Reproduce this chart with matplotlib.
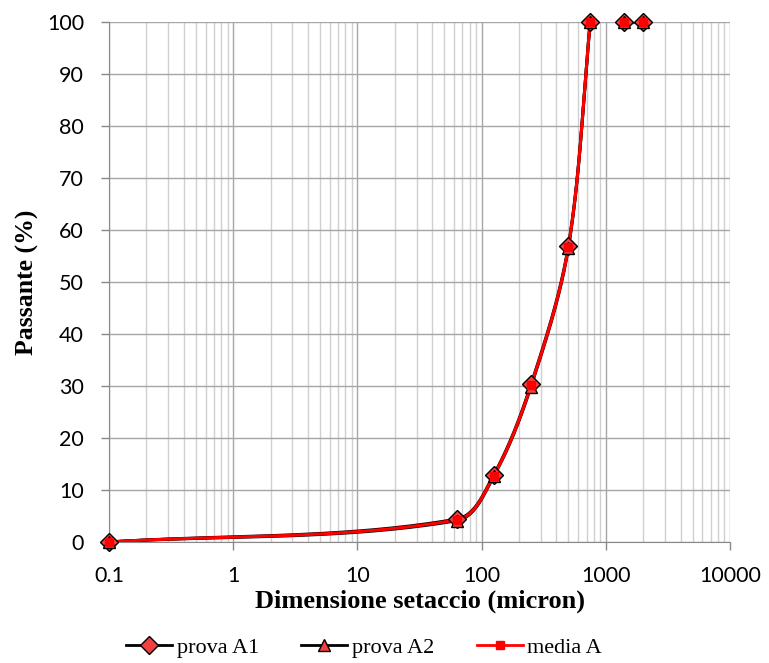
import numpy as np
import matplotlib
matplotlib.use("Agg")
import matplotlib.pyplot as plt
from matplotlib.lines import Line2D

# ---- data ----
sizes = [0.1, 63, 125, 250, 500, 750, 1000, 1400, 2000]
prova_A1 = [0.0, 4.4, 12.9, 30.3, 57.0, 100.0, np.nan, 100.0, 100.0]
prova_A2 = [0.0, 4.1, 12.6, 29.9, 56.6, 100.0, np.nan, 100.0, 100.0]
media_A = [(a + b) / 2 for a, b in zip(prova_A1, prova_A2)]
y_ticks = [0, 10, 20, 30, 40, 50, 60, 70, 80, 90, 100]
x_ticks = [0.1, 1, 10, 100, 1000, 10000]
x_ticklabels = ["0.1", "1", "10", "100", "1000", "10000"]

W, H = 769, 663
fig = plt.figure(figsize=(W / 100, H / 100), dpi=100)
ax = fig.add_axes([109 / W, 1 - 542 / H, (730 - 109) / W, (542 - 22) / H])
ax.set_xscale("log")
ax.set_xlim(0.1, 10000)
ax.set_ylim(0, 100)

XS, YS = 124.3, 5.2  # pixel scale per decade / per unit (for smoothing)


def _unit(v):
    n = np.hypot(*v)
    return v / n if n > 0 else v


def smooth(xs, ys, n=60):
    """Smoothed line (Bezier with length-limited tangents) in log-x space."""
    px = np.log10(np.asarray(xs, float)) * XS
    py = np.asarray(ys, float) * YS
    P = np.column_stack([px, py])
    out = []
    m = len(P)
    for i in range(m - 1):
        p0 = P[i - 1] if i > 0 else P[i]
        p1, p2 = P[i], P[i + 1]
        p3 = P[i + 2] if i + 2 < m else P[i + 1]
        L = np.hypot(*(p2 - p1))
        c1 = p1 + _unit(p2 - p0) * L / 3
        c2 = p2 - _unit(p3 - p1) * L / 3
        t = np.linspace(0, 1, n)[:, None]
        seg = ((1 - t) ** 3) * p1 + 3 * ((1 - t) ** 2) * t * c1 + 3 * (1 - t) * t ** 2 * c2 + t ** 3 * p2
        out.append(seg if i == 0 else seg[1:])
    S = np.vstack(out)
    return 10 ** (S[:, 0] / XS), S[:, 1] / YS


def segments(xs, ys):
    segs, cx, cy = [], [], []
    for x, y in zip(xs, ys):
        if np.isnan(y):
            if cx:
                segs.append((cx, cy))
            cx, cy = [], []
        else:
            cx.append(x)
            cy.append(y)
    if cx:
        segs.append((cx, cy))
    return segs


series = [
    (prova_A1, "black", "D", 9, "#f04040", "black"),
    (prova_A2, "black", "^", 9, "#f04040", "black"),
    (media_A, "#ff0000", "s", 6, "#ff0000", "#ff0000"),
]
for ys, lc, mk, ms, mfc, mec in series:
    for sx, sy in segments(sizes, ys):
        lx, ly = smooth(sx, sy)
        ax.plot(lx, ly, color=lc, lw=2.2, zorder=3, solid_capstyle="round")
for ys, lc, mk, ms, mfc, mec in series:
    ax.plot(sizes, ys, ls="none", marker=mk, ms=ms, mfc=mfc, mec=mec, mew=1.0, zorder=4, clip_on=False)

# grid
ax.set_yticks(y_ticks)
ax.set_xticks(x_ticks)
ax.set_xticklabels(x_ticklabels)
ax.grid(True, which="major", axis="both", color="#a6a6a6", lw=1.0)
ax.grid(True, which="minor", axis="x", color="#d0d0d0", lw=1.0)
ax.set_axisbelow(True)
for s in ["top", "right"]:
    ax.spines[s].set_visible(False)
for s in ["left", "bottom"]:
    ax.spines[s].set_color("#888888")
ax.tick_params(axis="both", which="major", labelsize=15.5, colors="black")
ax.tick_params(axis="both", which="major", length=6, width=1, color="#888888", pad=12)
ax.tick_params(axis="x", which="major", pad=11)
ax.tick_params(axis="x", which="minor", length=0)
for lab in ax.get_xticklabels() + ax.get_yticklabels():
    lab.set_fontfamily("Lato")

ax.set_ylabel("Passante (%)", fontsize=18.5, fontweight="bold", family="Liberation Serif", labelpad=6)
ax.set_xlabel("Dimensione setaccio (micron)", fontsize=19, fontweight="bold", family="Liberation Serif", labelpad=3)

handles = [
    Line2D([], [], color="black", lw=2, marker="D", ms=9, mfc="#f04040", mec="black"),
    Line2D([], [], color="black", lw=2, marker="^", ms=9, mfc="#f04040", mec="black"),
    Line2D([], [], color="#ff0000", lw=2, marker="s", ms=6, mfc="#ff0000", mec="#ff0000"),
]
fig.legend(handles, ["prova A1", "prova A2", "media A"], loc="center", bbox_to_anchor=(364 / W, 1 - 648 / H),
           ncol=3, frameon=False, prop={"family": "Liberation Serif", "size": 16},
           handlelength=2.07, columnspacing=1.9, handletextpad=0.22, borderaxespad=0)

fig.savefig("out.png", dpi=100)
